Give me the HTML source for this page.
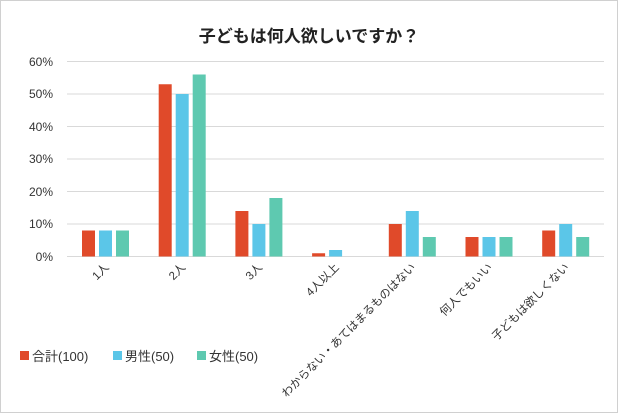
<!DOCTYPE html>
<html><head><meta charset="utf-8"><style>
html,body{margin:0;padding:0;background:#fff}
svg{display:block;font-family:"Liberation Sans","Noto Sans CJK JP",sans-serif}
</style></head><body>
<svg width="618" height="413" viewBox="0 0 618 413" xmlns="http://www.w3.org/2000/svg">
<rect x="0.5" y="0.5" width="617" height="412" fill="#fff" stroke="#d0d0d0"/>
<text x="309" y="42" text-anchor="middle" font-size="17" font-weight="bold" fill="#222">子どもは何人欲しいですか？</text>
<g stroke="#d9d9d9" stroke-width="1">
<line x1="67" x2="604" y1="61.5" y2="61.5"/>
<line x1="67" x2="604" y1="94" y2="94"/>
<line x1="67" x2="604" y1="126.5" y2="126.5"/>
<line x1="67" x2="604" y1="159" y2="159"/>
<line x1="67" x2="604" y1="191.5" y2="191.5"/>
<line x1="67" x2="604" y1="224" y2="224"/>
<line x1="67" x2="604" y1="256.5" y2="256.5"/>
</g>
<g font-size="12" fill="#333" text-anchor="end">
<text x="53" y="66">60%</text>
<text x="53" y="98">50%</text>
<text x="53" y="131">40%</text>
<text x="53" y="163">30%</text>
<text x="53" y="196">20%</text>
<text x="53" y="228">10%</text>
<text x="53" y="261">0%</text>
</g>
<g id="bars"></g>
<g font-size="11.5" fill="#333" text-anchor="end" id="labels"></g>
<g font-size="13" fill="#333">
<rect x="20" y="351" width="9" height="9" fill="#e04a2a"/><text x="32" y="361">合計(100)</text>
<rect x="113" y="351" width="9" height="9" fill="#5bc6e8"/><text x="125" y="361">男性(50)</text>
<rect x="197" y="351" width="9" height="9" fill="#5ec9b0"/><text x="209" y="361">女性(50)</text>
</g>
<script>
var d=[[8,8,8],[53,50,56],[14,10,18],[1,2,0],[10,14,6],[6,6,6],[8,10,6]];
var L=["1人","2人","3人","4人以上","わからない・あてはまるものはない","何人でもいい","子どもは欲しくない"];
var c=["#e04a2a","#5bc6e8","#5ec9b0"];
var ns="http://www.w3.org/2000/svg",b=document.getElementById("bars"),lg=document.getElementById("labels");
for(var i=0;i<7;i++){var cx=105.5+76.7*i;
for(var j=0;j<3;j++){if(!d[i][j])continue;var h=d[i][j]*3.25;var r=document.createElementNS(ns,"rect");
r.setAttribute("x",cx-23.5+j*17);r.setAttribute("y",256.5-h);r.setAttribute("width",13);r.setAttribute("height",h);r.setAttribute("fill",c[j]);b.appendChild(r);}
var t=document.createElementNS(ns,"text");t.setAttribute("transform","translate("+(cx+4)+",268) rotate(-45)");t.textContent=L[i];lg.appendChild(t);}
</script>
</svg>
</body></html>
